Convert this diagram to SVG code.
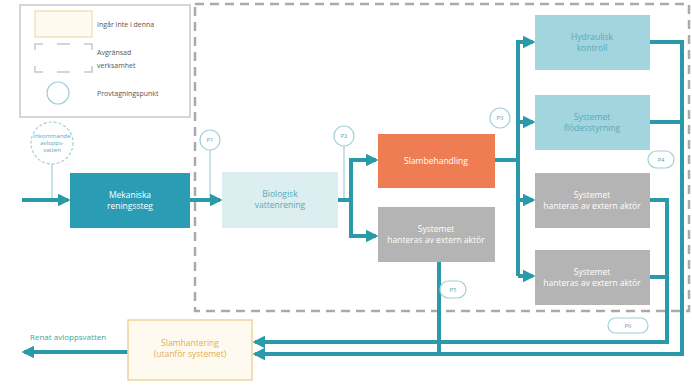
<svg xmlns="http://www.w3.org/2000/svg" width="692" height="389" viewBox="0 0 692 389">
  <style>
    text { font-family: "Open Sans", "Liberation Sans", sans-serif; }
    .lbl { font-size: 8.5px; fill: #ffffff; text-anchor: middle; }
    .lbl-dark { font-size: 8.5px; fill: #5aa9b8; text-anchor: middle; }
    .leg { font-size: 7px; fill: #555555; }
    .flow { fill: none; stroke: #2a9aa8; stroke-width: 4; }
    .tap { fill: none; stroke: #9fd0d8; stroke-width: 1.2; }
    .pt { fill: #ffffff; stroke: #9fd0d8; stroke-width: 1.2; }
    .pt-txt { font-size: 6px; fill: #5aa9b8; text-anchor: middle; }
  </style>
  <defs>
    <marker id="arrow" viewBox="0 0 10 10" refX="8" refY="5" markerWidth="3.2" markerHeight="3.2" orient="auto">
      <path d="M0,0 L10,5 L0,10 z" fill="#2a9aa8"/>
    </marker>
  </defs>

  <rect width="692" height="389" fill="#ffffff"/>

  <!-- legend -->
  <g id="legend">
    <rect x="20" y="5" width="170" height="112" fill="#ffffff" stroke="#c8c8c8" stroke-width="1.5"/>
    <rect x="35" y="11" width="57" height="26" fill="#fffaf0" stroke="#f2dca8" stroke-width="1.2"/>
    <path d="M35,50 V44 H43 M84,44 H92 V50 M35,66 V72 H43 M84,72 H92 V66 M57,44 H70 M57,72 H70" fill="none" stroke="#c8c8c8" stroke-width="1.5"/>
    <circle cx="58" cy="93" r="11" class="pt"/>
    <text x="97" y="27" class="leg">Ingår inte i denna</text>
    <text x="97" y="55" class="leg">Avgränsad</text>
    <text x="97" y="68" class="leg">verksamhet</text>
    <text x="97" y="96" class="leg">Provtagningspunkt</text>
  </g>

  <!-- system boundary -->
  <rect id="boundary" x="195" y="4" width="494" height="307" fill="none" stroke="#aaaaaa" stroke-width="2.5" stroke-dasharray="9,6"/>

  <!-- connectors -->
  <g id="connectors">
    <path class="tap" d="M52,163 V200"/>
    <path class="tap" d="M210,150 V200"/>
    <path class="tap" d="M344,146 V200"/>
    <path class="flow" d="M22,200 H68" marker-end="url(#arrow)"/>
    <path class="flow" d="M190,200 H220" marker-end="url(#arrow)"/>
    <path class="flow" d="M338,200 H351 V160 H376" marker-end="url(#arrow)"/>
    <path class="flow" d="M351,200 V236 H376" marker-end="url(#arrow)"/>
    <path class="flow" d="M495,160 H518"/>
    <path class="flow" d="M518,276 V42 H533" marker-end="url(#arrow)"/>
    <path class="flow" d="M518,122 H533" marker-end="url(#arrow)"/>
    <path class="flow" d="M518,200 H533" marker-end="url(#arrow)"/>
    <path class="flow" d="M518,276 H533" marker-end="url(#arrow)"/>
    <path class="flow" d="M650,42 H682 V354 H255" marker-end="url(#arrow)"/>
    <path class="flow" d="M650,122 H682"/>
    <path class="flow" d="M650,200 H667 V342 H255" marker-end="url(#arrow)"/>
    <path class="flow" d="M650,277 H667"/>
    <path class="flow" d="M439,262 V354"/>
    <path class="flow" d="M128,352 H24" marker-end="url(#arrow)"/>
  </g>

  <!-- inflow point -->
  <g id="inflow">
    <circle cx="52" cy="143" r="21" fill="#ffffff" stroke="#9fd0d8" stroke-width="1.2" stroke-dasharray="3,2"/>
    <text x="52" y="138" class="pt-txt">Inkommande</text>
    <text x="52" y="145" class="pt-txt">avlopps-</text>
    <text x="52" y="152" class="pt-txt">vatten</text>
  </g>

  <g id="mekanisk">
    <rect x="70" y="173" width="120" height="55" fill="#2a9db5"/>
    <text x="130" y="198" class="lbl">Mekaniska</text>
    <text x="130" y="209" class="lbl">reningssteg</text>
  </g>

  <g id="biologisk">
    <rect x="222" y="172" width="116" height="56" fill="#ddeef0"/>
    <text x="280" y="197" class="lbl-dark">Biologisk</text>
    <text x="280" y="208" class="lbl-dark">vattenrening</text>
  </g>

  <g id="slambehandling">
    <rect x="378" y="134" width="117" height="54" fill="#ef7d54"/>
    <text x="436" y="164" class="lbl">Slambehandling</text>
  </g>

  <g id="extern1">
    <rect x="378" y="207" width="117" height="55" fill="#b4b4b4"/>
    <text x="436" y="232" class="lbl">Systemet</text>
    <text x="436" y="243" class="lbl">hanteras av extern aktör</text>
  </g>

  <g id="hydraulik">
    <rect x="535" y="15" width="115" height="55" fill="#a3d5de"/>
    <text x="592" y="40" class="lbl-dark">Hydraulisk</text>
    <text x="592" y="51" class="lbl-dark">kontroll</text>
  </g>

  <g id="flodesstyrning">
    <rect x="535" y="95" width="115" height="55" fill="#a3d5de"/>
    <text x="592" y="120" class="lbl-dark">Systemet</text>
    <text x="592" y="131" class="lbl-dark">flödesstyrning</text>
  </g>

  <g id="extern2">
    <rect x="535" y="173" width="115" height="55" fill="#b4b4b4"/>
    <text x="592" y="198" class="lbl">Systemet</text>
    <text x="592" y="209" class="lbl">hanteras av extern aktör</text>
  </g>

  <g id="extern3">
    <rect x="535" y="250" width="115" height="55" fill="#b4b4b4"/>
    <text x="592" y="275" class="lbl">Systemet</text>
    <text x="592" y="286" class="lbl">hanteras av extern aktör</text>
  </g>

  <g id="slamhantering">
    <rect x="128" y="320" width="124" height="60" fill="#fffaf0" stroke="#f0d29a" stroke-width="1.5"/>
    <text x="190" y="346" font-size="8.5" fill="#e0ad5a" text-anchor="middle">Slamhantering</text>
    <text x="190" y="357" font-size="8.5" fill="#e0ad5a" text-anchor="middle">(utanför systemet)</text>
  </g>

  <text id="outflow-label" x="30" y="340" font-size="8" fill="#3aa89a">Renat avloppsvatten</text>

  <!-- sampling points -->
  <g id="p1"><circle cx="210" cy="140" r="10" class="pt"/><text x="210" y="142" class="pt-txt">P1</text></g>
  <g id="p2"><circle cx="344" cy="136" r="10" class="pt"/><text x="344" y="138" class="pt-txt">P2</text></g>
  <g id="p3"><circle cx="500" cy="118" r="10" class="pt"/><text x="500" y="120" class="pt-txt">P3</text></g>
  <g id="p4"><rect x="648" y="151" width="26" height="17" rx="8.5" class="pt"/><text x="661" y="162" class="pt-txt">P4</text></g>
  <g id="p5"><rect x="440" y="281" width="26" height="17" rx="8.5" class="pt"/><text x="453" y="292" class="pt-txt">P5</text></g>
  <g id="p6"><rect x="608" y="318" width="40" height="15" rx="7.5" class="pt"/><text x="628" y="328" class="pt-txt">P6</text></g>
</svg>
